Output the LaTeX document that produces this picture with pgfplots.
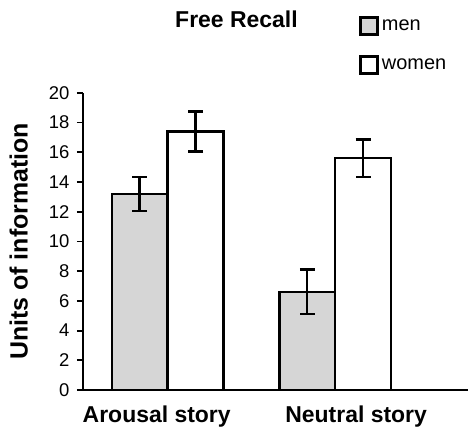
\documentclass[border=0pt]{standalone}
\usepackage{pgfplots}
\pgfplotsset{compat=1.18}
\usepackage{fontspec}
\setmainfont{Liberation Sans}

\begin{document}
\begin{tikzpicture}
\begin{axis}[
    name=ax,
    scale only axis,
    width=386pt, height=298pt,
    xmin=-0.506, xmax=1.792,
    ymin=0, ymax=20,
    axis x line=bottom, axis y line=left,
    axis line style={-, line width=2.2pt},
    ytick={0,2,...,20},
    tick align=outside,
    major tick length=6pt,
    tick style={line width=1.8pt, black},
    yticklabel style={font=\fontsize{18.5}{20}\selectfont, xshift=-4pt},
    /pgf/number format/assume math mode=true,
    xtick={-0.065,1.125},
    xticklabels={Arousal story, Neutral story},
    x tick style={draw=none},
    xticklabel style={font=\fontsize{23}{26}\bfseries\selectfont, yshift=-6pt},
    ylabel={Units of information},
    ylabel style={font=\fontsize{25}{28}\bfseries\selectfont, yshift=14pt},
    title={Free Recall},
    title style={font=\fontsize{23}{26}\bfseries\selectfont, at={(0.399,1.228)}, anchor=center},
    bar shift=0pt,
    bar width=0.3333,
    legend style={draw=none, fill=none, at={(0.7176,1.259)}, anchor=north west,
        font=\fontsize{20}{22}\selectfont, row sep=20pt, inner sep=0pt,
        nodes={inner xsep=3pt}},
    legend cell align=left,
    legend image code/.code={\draw[#1, line width=2.6pt] (0pt,-8.5pt) rectangle (17pt,8.5pt);},
]
\addplot[ybar, draw=black, line width=2.4pt, fill=black!16,
    error bars/.cd, y dir=both, y explicit,
    error bar style={line width=2.4pt, black},
    error mark options={rotate=90, mark size=7.5pt, line width=2.4pt}]
    coordinates {(-0.1667,13.2) +- (0,1.15) (0.8333,6.6) +- (0,1.5)};
\addlegendentry{men}
\addplot[ybar, draw=black, line width=2.4pt, fill=white,
    error bars/.cd, y dir=both, y explicit,
    error bar style={line width=2.4pt, black},
    error mark options={rotate=90, mark size=7.5pt, line width=2.4pt}]
    coordinates {(0.1667,17.4) +- (0,1.35) (1.1667,15.6) +- (0,1.25)};
\addlegendentry{women}
\end{axis}
\path[use as bounding box] ([xshift=-83pt,yshift=-36pt]ax.south west) rectangle ([xshift=386pt,yshift=391pt]ax.south west);
\end{tikzpicture}
\end{document}
